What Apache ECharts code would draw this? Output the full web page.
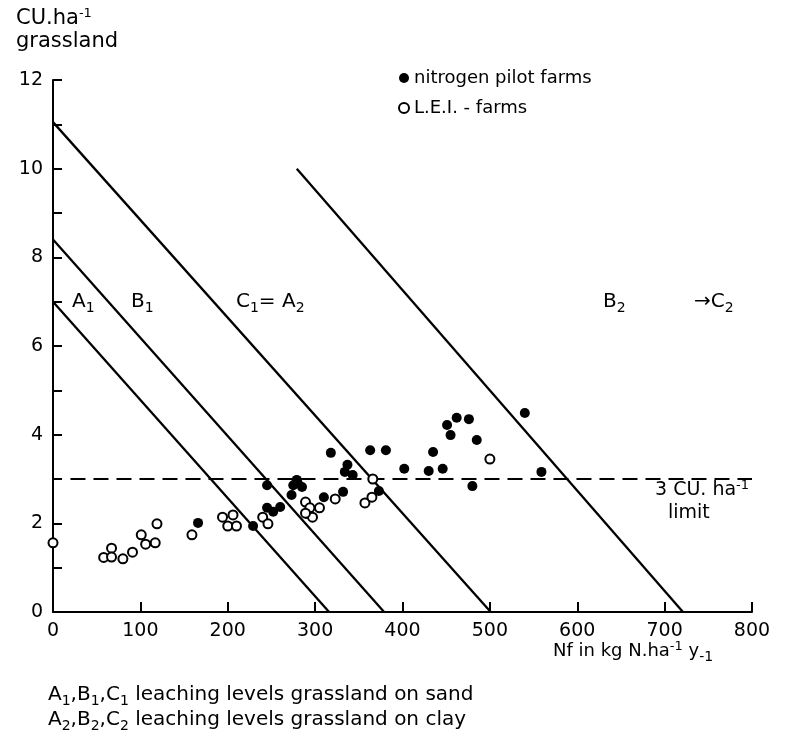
<!DOCTYPE html>
<html>
<head>
<meta charset="utf-8">
<script src="https://cdn.jsdelivr.net/npm/echarts@6/dist/echarts.min.js"></script>
<style>
  html, body { margin: 0; padding: 0; background: #fff; }
  #chart { width: 791px; height: 740px; }
</style>
</head>
<body>
<div id="chart"></div>
<script>
// nitrogen pilot farms (filled dots) [Nf, CU/ha]
var pilotFarms = [
  [166, 2.01], [229, 1.94], [245, 2.86], [245, 2.35], [252, 2.26], [260, 2.37],
  [273, 2.64], [275, 2.86], [279, 2.98], [280, 2.91], [285, 2.82], [291, 2.21],
  [310, 2.59], [318, 3.59], [332, 2.71], [334, 3.16], [337, 3.32], [343, 3.09],
  [363, 3.65], [373, 2.73], [381, 3.65], [402, 3.23], [430, 3.18], [435, 3.61],
  [446, 3.23], [451, 4.22], [455, 3.99], [462, 4.38], [476, 4.35], [480, 2.84],
  [485, 3.88], [540, 4.49], [559, 3.16]
];
// L.E.I. farms (open circles)
var leiFarms = [
  [0, 1.56], [58, 1.23], [67, 1.44], [67, 1.24], [80, 1.2], [91, 1.35],
  [101, 1.74], [106, 1.53], [117, 1.56], [119, 1.99], [159, 1.74], [194, 2.14],
  [206, 2.19], [200, 1.94], [210, 1.94], [240, 2.14], [246, 1.99], [289, 2.48],
  [294, 2.35], [305, 2.35], [297, 2.14], [289, 2.23], [323, 2.55], [357, 2.46],
  [365, 2.59], [366, 3.0], [500, 3.45]
];
// leaching level lines
var lineA1 = [[0, 7.0], [316, 0]];
var lineB1 = [[0, 8.4], [379, 0]];
var lineC1A2 = [[0, 11.05], [501, 0]];
var lineB2 = [[279, 10], [721, 0]];
var limitLine = [[20, 3], [800, 3]];

var xTicks = [0, 800, 100];
var yTicks = [0, 12, 1];

var font = '"DejaVu Sans", sans-serif';
var chart = echarts.init(document.getElementById('chart'));

function levelLine(data) {
  return {
    type: 'line', data: data, symbol: 'none', silent: true,
    lineStyle: { color: '#000', width: 2.3 }, z: 1
  };
}

var rich = {
  n: { fontSize: 20, fontFamily: font, color: '#000' },
  sub: { fontSize: 14, fontFamily: font, color: '#000', padding: [12, 0, 0, 0] },
  sup: { fontSize: 13, fontFamily: font, color: '#000', padding: [0, 0, 10, 0] }
};

function txt(left, top, text, size) {
  return {
    type: 'text', left: left, top: top,
    style: { text: text, fontSize: size || 18, fontFamily: font, fill: '#000', rich: rich }
  };
}

var option = {
  backgroundColor: '#fff',
  animation: false,
  grid: { left: 53, right: 39, top: 80, bottom: 128 },
  legend: {
    orient: 'vertical', left: 393, top: 64, itemGap: 12,
    itemWidth: 10, itemHeight: 10,
    data: ['nitrogen pilot farms', 'L.E.I. - farms'],
    textStyle: { fontSize: 18, fontFamily: font, color: '#000' }
  },
  xAxis: {
    type: 'value', min: xTicks[0], max: xTicks[1], interval: xTicks[2],
    splitLine: { show: false },
    axisLine: { lineStyle: { color: '#000', width: 2 } },
    axisTick: { inside: true, length: 10, lineStyle: { color: '#000', width: 2 } },
    axisLabel: { color: '#000', fontSize: 19, fontFamily: font, margin: 10 }
  },
  yAxis: {
    type: 'value', min: yTicks[0], max: yTicks[1], interval: yTicks[2],
    splitLine: { show: false },
    axisLine: { show: true, lineStyle: { color: '#000', width: 2 } },
    axisTick: { show: true, inside: true, length: 9, lineStyle: { color: '#000', width: 2 } },
    axisLabel: {
      color: '#000', fontSize: 19, fontFamily: font, margin: 10,
      formatter: function (v) { return v % 2 === 0 ? v : ''; }
    }
  },
  series: [
    levelLine(lineA1),
    levelLine(lineB1),
    levelLine(lineC1A2),
    levelLine(lineB2),
    {
      type: 'line', data: limitLine, symbol: 'none', silent: true, z: 1,
      lineStyle: { color: '#000', width: 2, type: [15, 8] }
    },
    {
      name: 'nitrogen pilot farms', type: 'scatter', data: pilotFarms,
      symbol: 'circle', symbolSize: 10, z: 3,
      itemStyle: { color: '#000', opacity: 1 }
    },
    {
      name: 'L.E.I. - farms', type: 'scatter', data: leiFarms,
      symbol: 'circle', symbolSize: 9, z: 3,
      itemStyle: { color: '#fff', borderColor: '#000', borderWidth: 2, opacity: 1 }
    }
  ],
  graphic: [
    txt(16, 7, 'CU.ha{sup|-1}', 21),
    txt(16, 31, 'grassland', 21),
    txt(72, 292, '{n|A}{sub|1}'),
    txt(131, 292, '{n|B}{sub|1}'),
    txt(236, 292, '{n|C}{sub|1}{n|= A}{sub|2}'),
    txt(603, 292, '{n|B}{sub|2}'),
    txt(694, 292, '{n|→C}{sub|2}'),
    txt(655, 479, '3 CU. ha{sup|-1}', 19),
    txt(668, 504, 'limit', 19),
    txt(553, 640, 'Nf in kg N.ha{sup|-1} y{sub|-1}', 18),
    txt(48, 685, 'A{sub|1},B{sub|1},C{sub|1} leaching levels grassland on sand', 20),
    txt(48, 710, 'A{sub|2},B{sub|2},C{sub|2} leaching levels grassland on clay', 20)
  ]
};

chart.setOption(option);
</script>
</body>
</html>
